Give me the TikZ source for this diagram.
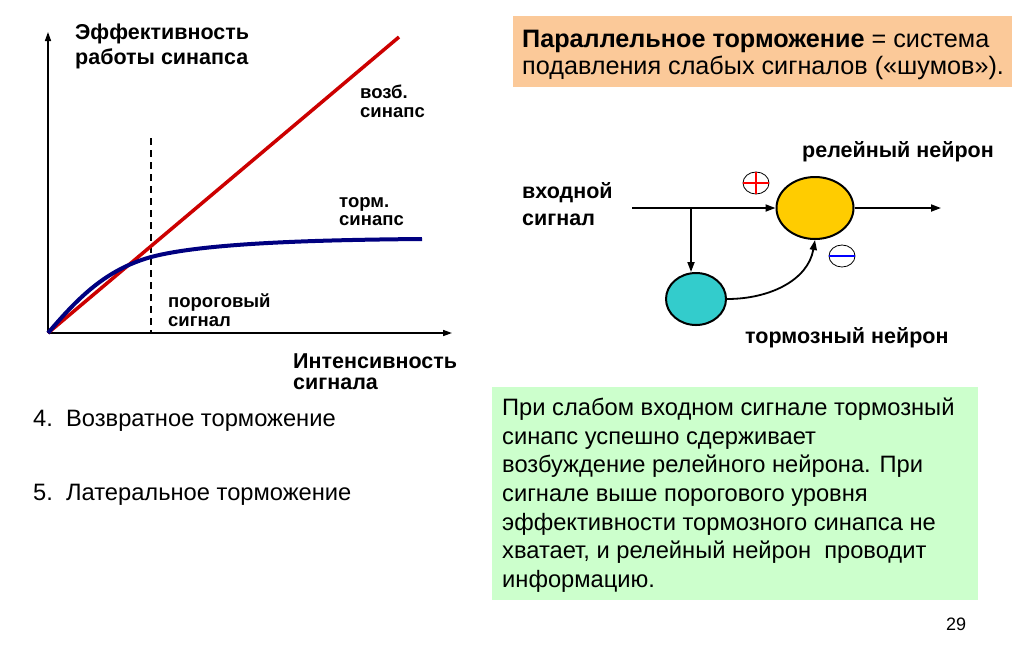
\documentclass[tikz,border=0pt]{standalone}
\usepackage{fontspec}
\setmainfont{Liberation Sans}
\usetikzlibrary{arrows.meta,shapes.geometric}
\definecolor{peach}{RGB}{251,201,153}
\definecolor{mint}{RGB}{204,255,204}
\definecolor{relay}{RGB}{255,204,0}
\definecolor{inhib}{RGB}{51,204,204}
\definecolor{excred}{RGB}{204,0,0}
\definecolor{inhblue}{RGB}{0,0,128}
\tikzset{
  lbl/.style={anchor=base west,inner sep=0pt,font=\bfseries\fontsize{21.5}{24}\selectfont},
  slbl/.style={anchor=base west,inner sep=0pt,font=\bfseries\fontsize{18.5}{21}\selectfont},
  body/.style={anchor=base west,inner sep=0pt,font=\fontsize{23.7}{27}\selectfont},
  axis/.style={line width=1.5pt,-{Triangle[length=9pt,width=6pt]}},
  conn/.style={line width=1.8pt,-{Triangle[length=10pt,width=7pt]}},
  neuron/.style={ellipse,draw=black,line width=2pt,inner sep=0pt},
  sign/.style={ellipse,draw=black,line width=0.8pt,fill=white,minimum width=26pt,minimum height=22pt,inner sep=0pt}
}
\begin{document}
\begin{tikzpicture}[x=1pt,y=-1pt]
\useasboundingbox (0,0) rectangle (1024,649);
% ---------- graph ----------
\coordinate (O) at (48,333);
\coordinate (ytop) at (48,32);
\coordinate (xend) at (452,333);
\coordinate (rend) at (399,37);
\coordinate (bend) at (422,239);
\coordinate (dtop) at (151,138);
\coordinate (dbot) at (151,333);
\draw[line width=1.5pt,dash pattern=on 7pt off 5pt] (dtop) -- (dbot);
\draw[axis] (O) -- (ytop);
\draw[axis] (O) -- (xend);
\draw[excred,line width=3.5pt] (O) -- (rend);
\draw[inhblue,line width=4pt] (O) .. controls (78,298) and (105,270) .. (151,257)
   .. controls (200,244) and (300,240) .. (bend);
\node[lbl] (yl1) at (75,39) {Эффективность};
\node[lbl] (yl2) at (75,64) {работы синапса};
\node[lbl] (xl1) at (293,368) {Интенсивность};
\node[lbl] (xl2) at (293,389) {сигнала};
\node[slbl] (ex1) at (360,98) {возб.};
\node[slbl] (ex2) at (360,117) {синапс};
\node[slbl] (in1) at (339,207) {торм.};
\node[slbl] (in2) at (339,225) {синапс};
\node[slbl] (th1) at (168,307) {пороговый};
\node[slbl] (th2) at (168,326) {сигнал};
% ---------- list ----------
\node[body] (l4) at (33,426) {4.\ \ Возвратное торможение};
\node[body] (l5) at (33,500) {5.\ \ Латеральное торможение};
% ---------- title box ----------
\fill[peach] (513,16) rectangle (1012,87);
\node[body,font=\fontsize{25.2}{29}\selectfont] (t1) at (522,47) {\textbf{Параллельное торможение} = система};
\node[body,font=\fontsize{25.2}{29}\selectfont] (t2) at (522,74) {подавления слабых сигналов («шумов»).};
% ---------- circuit ----------
\node[neuron,fill=relay,minimum width=77pt,minimum height=62pt] (relay) at (815,208) {};
\node[neuron,fill=inhib,minimum width=60pt,minimum height=52pt] (inh) at (696,299) {};
\coordinate (in) at (632,208);
\coordinate (br) at (691,208);
\coordinate (out) at (941,208);
\draw[conn] (in) -- (relay.west);
\draw[conn] (relay.east) -- (out);
\draw[conn] (br) -- (br |- inh.north);
\draw[conn] (inh.east) .. controls (770,299) and (808,280) .. (relay.south);
\node[sign] (plus) at (756,183) {};
\draw[red,line width=2.5pt] (plus.north) -- (plus.south) (plus.west) -- (plus.east);
\node[sign] (minus) at (842,256) {};
\draw[blue,line width=2.5pt] (minus.west) -- (minus.east);
\node[lbl] (rl) at (802,157) {релейный нейрон};
\node[lbl] (il) at (745,343) {тормозный нейрон};
\node[lbl] (is1) at (522,198) {входной};
\node[lbl] (is2) at (522,225) {сигнал};
% ---------- explanation box ----------
\fill[mint] (492,387) rectangle (978,600);
\node[body] (g1) at (502,415) {При слабом входном сигнале тормозный};
\node[body] (g2) at (502,444) {синапс успешно сдерживает};
\node[body] (g3) at (502,472) {возбуждение релейного нейрона. При};
\node[body] (g4) at (502,501) {сигнале выше порогового уровня};
\node[body] (g5) at (502,530) {эффективности тормозного синапса не};
\node[body] (g6) at (502,558) {хватает, и релейный нейрон\ \ проводит};
\node[body] (g7) at (502,587) {информацию.};
\node[anchor=base west,inner sep=0pt,font=\fontsize{18}{21}\selectfont] (pg) at (946,630) {29};
\end{tikzpicture}
\end{document}
